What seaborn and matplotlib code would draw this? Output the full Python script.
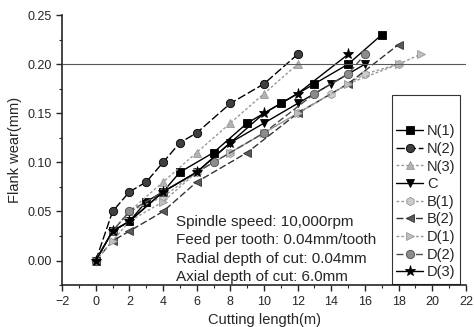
import pandas as pd
import matplotlib
matplotlib.use("Agg")
import matplotlib.pyplot as plt
import seaborn as sns

# Flank wear vs cutting length
labels = ["N(1)", "N(2)", "N(3)", "C", "B(1)", "B(2)", "D(1)", "D(2)", "D(3)"]

x_n1 = [0, 1, 2, 3, 4, 5, 7, 9, 11, 13, 15, 17]
y_n1 = [0, 0.03, 0.04, 0.06, 0.07, 0.09, 0.11, 0.14, 0.16, 0.18, 0.20, 0.23]
x_n2 = [0, 1, 2, 3, 4, 5, 6, 8, 10, 12]
y_n2 = [0, 0.05, 0.07, 0.08, 0.10, 0.12, 0.13, 0.16, 0.18, 0.21]
x_n3 = [0, 1, 2, 4, 6, 8, 10, 12]
y_n3 = [0, 0.03, 0.05, 0.08, 0.11, 0.14, 0.17, 0.20]
x_c = [0, 1, 2, 4, 6, 8, 10, 12, 14, 16]
y_c = [0, 0.03, 0.04, 0.07, 0.09, 0.12, 0.14, 0.16, 0.18, 0.20]
x_b1 = [0, 1, 2, 4, 6, 8, 10, 12, 14, 16, 18]
y_b1 = [0, 0.03, 0.05, 0.065, 0.09, 0.11, 0.13, 0.15, 0.17, 0.19, 0.20]
x_b2 = [0, 1, 2, 4, 6, 9, 12, 15, 18]
y_b2 = [0, 0.02, 0.03, 0.05, 0.08, 0.11, 0.15, 0.18, 0.22]
x_d1 = [0, 1, 2, 4, 6, 8, 10, 12, 15, 18, 19.3]
y_d1 = [0, 0.02, 0.04, 0.06, 0.09, 0.11, 0.13, 0.15, 0.18, 0.20, 0.21]
x_d2 = [0, 1, 2, 4, 7, 10, 13, 15, 16]
y_d2 = [0, 0.03, 0.05, 0.07, 0.10, 0.13, 0.17, 0.19, 0.21]
x_d3 = [0, 1, 2, 4, 6, 8, 10, 12, 15]
y_d3 = [0, 0.03, 0.04, 0.07, 0.09, 0.12, 0.15, 0.17, 0.21]

xs = [x_n1, x_n2, x_n3, x_c, x_b1, x_b2, x_d1, x_d2, x_d3]
ys = [y_n1, y_n2, y_n3, y_c, y_b1, y_b2, y_d1, y_d2, y_d3]

conditions = ["Spindle speed: 10,000rpm", "Feed per tooth: 0.04mm/tooth",
              "Radial depth of cut: 0.04mm", "Axial depth of cut: 6.0mm"]

# line styles per series: (color, marker, linestyle, marker face)
styles = [
    ("black", "s", "-", "black"),
    ("black", "o", (0, (6, 2)), "0.25"),
    ("0.6", "^", (0, (2, 1.5)), "0.7"),
    ("black", "v", "-", "black"),
    ("0.6", "h", (0, (2, 1.5)), "0.8"),
    ("0.2", "<", (0, (5, 2)), "0.35"),
    ("0.6", ">", (0, (2, 1.5)), "0.75"),
    ("0.3", "o", (0, (5, 2)), "0.55"),
    ("black", "*", "-", "black"),
]

sns.set_style("ticks")
plt.rcParams["font.family"] = ["Liberation Sans", "DejaVu Sans"]

fig = plt.figure(figsize=(4.74, 3.27), dpi=100)
ax = fig.add_axes([0.131, 0.128, 0.852, 0.826])

for lab, x, y, (col, mk, ls, fc) in zip(labels, xs, ys, styles):
    df = pd.DataFrame({"x": x, "y": y})
    sns.lineplot(data=df, x="x", y="y", ax=ax, color=col, marker=mk,
                 linestyle=ls, linewidth=1.0, markersize=6 if mk != "*" else 8,
                 markerfacecolor=fc, markeredgecolor=col, markeredgewidth=0.6,
                 label=lab)

ax.axhline(0.20, color="0.35", linewidth=0.8)

for i, t in enumerate(conditions):
    ax.text(4.75, 0.039 - i * 0.0185, t, fontsize=11, va="center", ha="left")

ax.set_xlim(-2, 22)
ax.set_ylim(-0.025, 0.25)
ax.set_xticks(range(-2, 23, 2))
ax.set_xticks(range(-1, 22, 2), minor=True)
ax.set_yticks([0, 0.05, 0.10, 0.15, 0.20, 0.25])
ax.set_yticks([0.025, 0.075, 0.125, 0.175, 0.225, -0.025], minor=True)
ax.set_yticklabels(["0.00", "0.05", "0.10", "0.15", "0.20", "0.25"])
ax.tick_params(labelsize=9, length=4, width=1, direction="out")
ax.tick_params(which="minor", length=2.5, width=0.8)
ax.set_xlabel("Cutting length(m)", fontsize=10.5)
ax.set_ylabel("Flank wear(mm)", fontsize=10.5)
sns.despine(ax=ax)
for sp in ["left", "bottom"]:
    ax.spines[sp].set_linewidth(1.2)

leg = ax.legend(loc="lower right", bbox_to_anchor=(0.985, 0.005), title=" ",
                fontsize=10.5, frameon=True, fancybox=False, edgecolor="black",
                handlelength=1.8, handletextpad=0.3, labelspacing=0.25,
                borderpad=0.3, borderaxespad=0.0)
leg.get_frame().set_linewidth(0.8)
leg.get_title().set_fontsize(16)

fig.savefig("out.png", dpi=100)
